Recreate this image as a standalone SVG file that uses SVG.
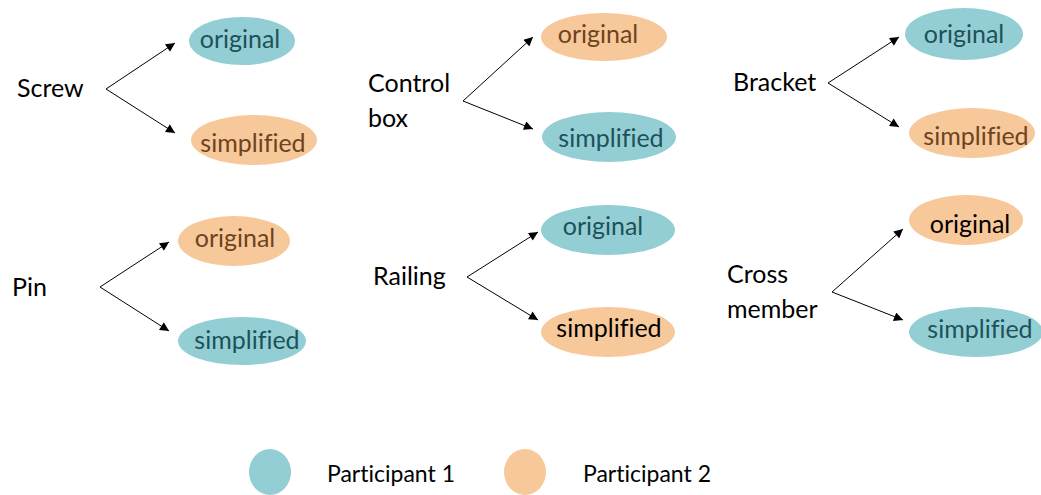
<svg xmlns="http://www.w3.org/2000/svg" width="1041" height="495" viewBox="0 0 1041 495">
<style>
.lbl{font-family:Lato,"Liberation Sans",sans-serif;font-size:25px;fill:#000;font-variant-ligatures:none}
.t{font-family:Lato,"Liberation Sans",sans-serif;font-size:25px;text-anchor:middle;font-variant-ligatures:none}
.teal{fill:#93ced5}
.org{fill:#f7c899}
.tt{fill:#1d5258}
.ot{fill:#6e4320}
.bk{fill:#000}
.c{stroke:#000;stroke-width:1;fill:none;marker-end:url(#ah)}
</style>
<defs>
<marker id="ah" viewBox="0 0 10 10" refX="10" refY="5" markerWidth="10" markerHeight="9" markerUnits="userSpaceOnUse" orient="auto">
<path d="M0,0 L10,5 L0,10 z" fill="#000"/>
</marker>
</defs>
<g id="connectors">
<line class="c" x1="106" y1="89" x2="175" y2="43"/>
<line class="c" x1="106" y1="89" x2="175" y2="133"/>
<line class="c" x1="463" y1="101" x2="533" y2="37"/>
<line class="c" x1="463" y1="101" x2="533" y2="129"/>
<line class="c" x1="828" y1="83" x2="899" y2="37"/>
<line class="c" x1="828" y1="83" x2="899" y2="127"/>
<line class="c" x1="100" y1="287" x2="169" y2="242"/>
<line class="c" x1="100" y1="287" x2="169" y2="331"/>
<line class="c" x1="467" y1="277" x2="538" y2="232"/>
<line class="c" x1="467" y1="277" x2="538" y2="320"/>
<line class="c" x1="832" y1="292" x2="903" y2="229"/>
<line class="c" x1="832" y1="292" x2="903" y2="320"/>
</g>
<g id="screw">
<text class="lbl" x="17" y="97">Screw</text>
<ellipse class="teal" cx="242" cy="41" rx="53" ry="24"/>
<text class="t tt" x="240" y="48">original</text>
<ellipse class="org" cx="254" cy="140" rx="63" ry="25"/>
<text class="t ot" x="253" y="152">simplified</text>
</g>
<g id="controlbox">
<text class="lbl" x="368" y="92">Control</text>
<text class="lbl" x="368" y="127">box</text>
<ellipse class="org" cx="604" cy="37" rx="63" ry="24"/>
<text class="t ot" x="598" y="43">original</text>
<ellipse class="teal" cx="609" cy="137" rx="67" ry="25"/>
<text class="t tt" x="611" y="147">simplified</text>
</g>
<g id="bracket">
<text class="lbl" x="733" y="91">Bracket</text>
<ellipse class="teal" cx="964" cy="34" rx="59" ry="26"/>
<text class="t tt" x="964" y="43">original</text>
<ellipse class="org" cx="972" cy="133" rx="63" ry="25"/>
<text class="t ot" x="976" y="145">simplified</text>
</g>
<g id="pin">
<text class="lbl" x="12" y="296">Pin</text>
<ellipse class="org" cx="234" cy="241" rx="56" ry="25"/>
<text class="t ot" x="235" y="247">original</text>
<ellipse class="teal" cx="242" cy="341" rx="64" ry="24"/>
<text class="t tt" x="247" y="349">simplified</text>
</g>
<g id="railing">
<text class="lbl" x="373" y="285">Railing</text>
<ellipse class="teal" cx="608" cy="230" rx="67" ry="25"/>
<text class="t tt" x="603" y="235">original</text>
<ellipse class="org" cx="608" cy="332" rx="67" ry="25"/>
<text class="t bk" x="609" y="337">simplified</text>
</g>
<g id="crossmember">
<text class="lbl" x="727" y="283">Cross</text>
<text class="lbl" x="727" y="318">member</text>
<ellipse class="org" cx="966" cy="220" rx="57" ry="25"/>
<text class="t bk" x="970" y="233">original</text>
<ellipse class="teal" cx="976" cy="332" rx="67" ry="25"/>
<text class="t tt" x="980" y="338">simplified</text>
</g>
<g id="legend">
<ellipse class="teal" cx="270" cy="472" rx="21" ry="23"/>
<text class="lbl" x="327" y="482" style="font-size:23px">Participant 1</text>
<ellipse class="org" cx="525" cy="472" rx="21" ry="23"/>
<text class="lbl" x="583" y="482" style="font-size:23px">Participant 2</text>
</g>
</svg>
